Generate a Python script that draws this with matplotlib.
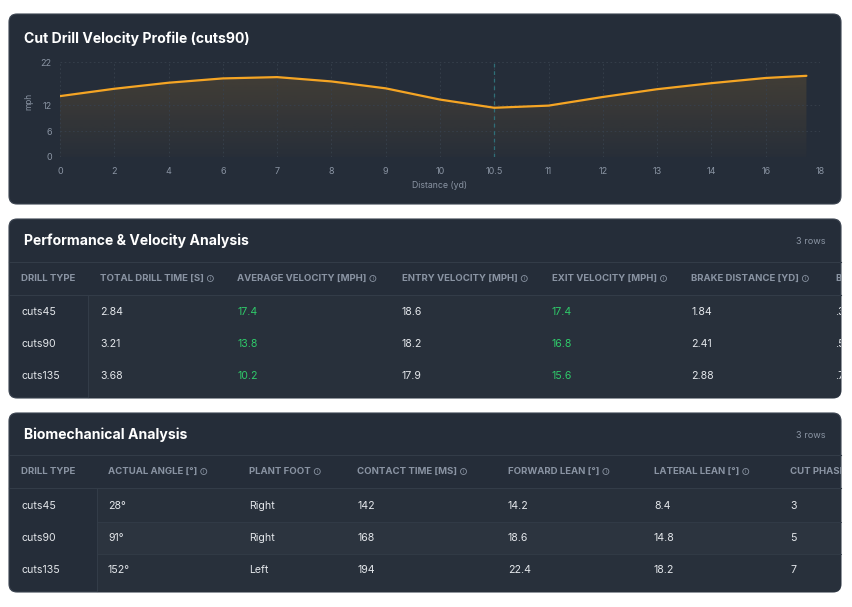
import numpy as np
import matplotlib
matplotlib.use('Agg')
import matplotlib.pyplot as plt
from matplotlib.patches import FancyBboxPatch, Rectangle, Circle
from matplotlib.ticker import NullLocator
from matplotlib.colors import to_rgb
from matplotlib.transforms import Bbox, TransformedBbox

# ---------------- data ----------------
distance_ticks = [0, 2, 4, 6, 7, 8, 9, 10, 10.5, 11, 12, 13, 14, 16, 18]
distance = [0, 2, 4, 6, 7, 8, 9, 10, 10.5, 11, 12, 13, 14, 16, 17.5]
velocity = [14.1, 15.8, 17.2, 18.2, 18.5, 17.5, 15.9, 13.3, 11.4, 11.9, 13.9, 15.7, 17.1, 18.3, 18.8]
velocity_ticks = [0, 6, 12, 22]
cut_point = 10.5

drill_types = ['cuts45', 'cuts90', 'cuts135']

perf_headers = ['DRILL TYPE', 'TOTAL DRILL TIME [S]', 'AVERAGE VELOCITY [MPH]',
                'ENTRY VELOCITY [MPH]', 'EXIT VELOCITY [MPH]', 'BRAKE DISTANCE [YD]', 'B']
total_time = ['2.84', '3.21', '3.68']
avg_velocity = ['17.4', '13.8', '10.2']
entry_velocity = ['18.6', '18.2', '17.9']
exit_velocity = ['17.4', '16.8', '15.6']
brake_distance = ['1.84', '2.41', '2.88']
perf_clipped = ['.3', '.5', '.7']

bio_headers = ['DRILL TYPE', 'ACTUAL ANGLE [°]', 'PLANT FOOT', 'CONTACT TIME [MS]',
               'FORWARD LEAN [°]', 'LATERAL LEAN [°]', 'CUT PHASE']
actual_angle = ['28°', '91°', '152°']
plant_foot = ['Right', 'Right', 'Left']
contact_time = ['142', '168', '194']
forward_lean = ['14.2', '18.6', '22.4']
lateral_lean = ['8.4', '14.8', '18.2']
cut_phase = ['3', '5', '7']

# ---------------- style ----------------
FONT = ['Inter', 'DejaVu Sans']
plt.rcParams['font.family'] = FONT
PANEL = '#252d39'
DATA_BG = '#28303b'
ALT_BG = '#2c343f'
SEP = '#333c48'
TEXT = '#e4e7eb'
MUTED = '#8a94a3'
GREEN = '#2fca6a'
ORANGE = '#f5a524'
TEAL = '#2f6f78'
TITLE_SIZE = 10.1
HEADER_SIZE = 6.9

W, H = 852, 607
fig = plt.figure(figsize=(W / 100, H / 100), dpi=100, facecolor='white')
bg = fig.add_axes([0, 0, 1, 1], zorder=0)
bg.axis('off')
bg.set_xlim(0, W)
bg.set_ylim(H, 0)


def panel(y0, y1):
    p = FancyBboxPatch((9, y0), 832, y1 - y0,
                       boxstyle='round,pad=0,rounding_size=8',
                       fc=PANEL, ec='#3a4350', lw=0.8, zorder=0)
    bg.add_patch(p)
    return p


p1 = panel(14, 204)
p2 = panel(219, 398)
p3 = panel(413, 592)

# ---------------- chart ----------------
bg.text(24, 39, 'Cut Drill Velocity Profile (cuts90)', color='white',
        fontsize=TITLE_SIZE, fontweight='bold', va='center', ha='left')

ax = fig.add_axes([60 / W, 1 - 157 / H, 760 / W, 95 / H], zorder=2)
ax.patch.set_alpha(0)
idx = np.arange(len(distance_ticks), dtype=float)


def fwd(x):
    return np.interp(x, distance_ticks, idx)


def inv(i):
    return np.interp(i, idx, distance_ticks)


ax.set_xscale('function', functions=(fwd, inv))
ax.set_xlim(0, 18)
ax.set_ylim(0, 22)
ax.set_xticks(distance_ticks)
ax.set_xticklabels([f'{t:g}' for t in distance_ticks])
ax.set_yticks(velocity_ticks)
ax.xaxis.set_minor_locator(NullLocator())
ax.yaxis.set_minor_locator(NullLocator())
ax.tick_params(length=0, colors=MUTED, labelsize=6.5)
ax.tick_params(axis='x', pad=7)
ax.tick_params(axis='y', pad=6)
for s in ax.spines.values():
    s.set_visible(False)
ax.grid(True, color='#37414d', ls=(0, (2, 3)), lw=0.6)
ax.set_axisbelow(True)

coll = ax.fill_between(distance, velocity, 0, facecolor='none', edgecolor='none')
ax.plot(distance, velocity, color=ORANGE, lw=1.6, solid_capstyle='round', zorder=3)
ax.axvline(cut_point, color=TEAL, ls=(0, (3, 3)), lw=0.9, zorder=2)

# gradient fill clipped to the area under the line
rgb = to_rgb(ORANGE)
n = 128
grad = np.zeros((n, 1, 4))
grad[..., 0], grad[..., 1], grad[..., 2] = rgb
grad[:, 0, 3] = np.linspace(0.16, 0.015, n)
im = bg.imshow(grad, extent=(60, 820, 157, 62), aspect='auto', zorder=1,
               interpolation='bilinear')
im.set_clip_path(coll.get_paths()[0], ax.transData)
bg.set_xlim(0, W)
bg.set_ylim(H, 0)

bg.text(29, 101, 'mph', rotation=90, color=MUTED, fontsize=6, ha='center', va='center')
bg.text(440, 186, 'Distance (yd)', color=MUTED, fontsize=6.3, ha='center', va='center')

# ---------------- tables ----------------
icon_headers = []


def table(patch, y_top, title, headers, col_x, rows, colors, first_w,
          hdr_top, hdr_bot, row_y, alt=False, seps=False):
    bot = patch.get_y() + patch.get_height()
    clipbox = TransformedBbox(Bbox([[9, patch.get_y()], [841, bot]]), bg.transData)
    bg.text(24, y_top, title, color='white', fontsize=TITLE_SIZE, fontweight='bold',
            va='center', ha='left')
    bg.text(826, y_top, '3 rows', color=MUTED, fontsize=6.6, va='center', ha='right')
    r = Rectangle((first_w, hdr_bot), 841 - first_w, bot - hdr_bot, fc=DATA_BG, ec='none', zorder=0.5)
    bg.add_patch(r)
    r.set_clip_path(patch)
    rh = row_y[1] - row_y[0]
    if alt:
        ra = Rectangle((first_w, row_y[1] - rh / 2), 841 - first_w, rh, fc=ALT_BG, ec='none', zorder=0.6)
        bg.add_patch(ra)
        ra.set_clip_path(patch)
    bg.plot([9, 841], [hdr_top, hdr_top], color=SEP, lw=0.8, zorder=1)
    bg.plot([9, 841], [hdr_bot, hdr_bot], color=SEP, lw=0.8, zorder=1)
    bg.plot([first_w, first_w], [hdr_bot, bot - 1], color=SEP, lw=0.8, zorder=1)
    if seps:
        for k in range(1, len(row_y)):
            yy = (row_y[k - 1] + row_y[k]) / 2
            bg.plot([first_w, 841], [yy, yy], color=SEP, lw=0.6, zorder=1)
    hy = (hdr_top + hdr_bot) / 2
    for j, (h, x) in enumerate(zip(headers, col_x)):
        t = bg.text(x, hy, h, color=MUTED, fontsize=HEADER_SIZE, fontweight='bold',
                    va='center', ha='left', zorder=3)
        t.set_clip_box(clipbox)
        t.set_clip_on(True)
        if 0 < j < len(headers) - 1:
            icon_headers.append((t, hy))
    for j, col in enumerate(rows):
        for i, v in enumerate(col):
            t = bg.text(col_x[j], row_y[i], v, color=colors[j], fontsize=7.6,
                        va='center', ha='left', zorder=3)
            t.set_clip_box(clipbox)
            t.set_clip_on(True)


table(p2, 241, 'Performance & Velocity Analysis', perf_headers,
      [21, 100, 237, 402, 552, 691, 835],
      [drill_types, total_time, avg_velocity, entry_velocity, exit_velocity, brake_distance, perf_clipped],
      [TEXT, TEXT, GREEN, TEXT, GREEN, TEXT, TEXT],
      88, 262, 295, [312, 344, 376])

table(p3, 435, 'Biomechanical Analysis', bio_headers,
      [21, 108, 249, 357, 508, 654, 790],
      [drill_types, actual_angle, plant_foot, contact_time, forward_lean, lateral_lean, cut_phase],
      [TEXT] * 7,
      97, 455, 488, [506, 538, 570], alt=True, seps=True)

bg.set_xlim(0, W)
bg.set_ylim(H, 0)

fig.canvas.draw()
renderer = fig.canvas.get_renderer()
for t, hy in icon_headers:
    bb = t.get_window_extent(renderer)
    cx = bb.x1 + 6.5
    bg.add_patch(Circle((cx, hy), 3.0, fill=False, ec=MUTED, lw=0.6, zorder=3))
    bg.text(cx, hy + 0.3, 'i', color=MUTED, fontsize=3.6, ha='center', va='center', zorder=3)

bg.set_xlim(0, W)
bg.set_ylim(H, 0)
fig.savefig('out.png', dpi=100, facecolor='white')
